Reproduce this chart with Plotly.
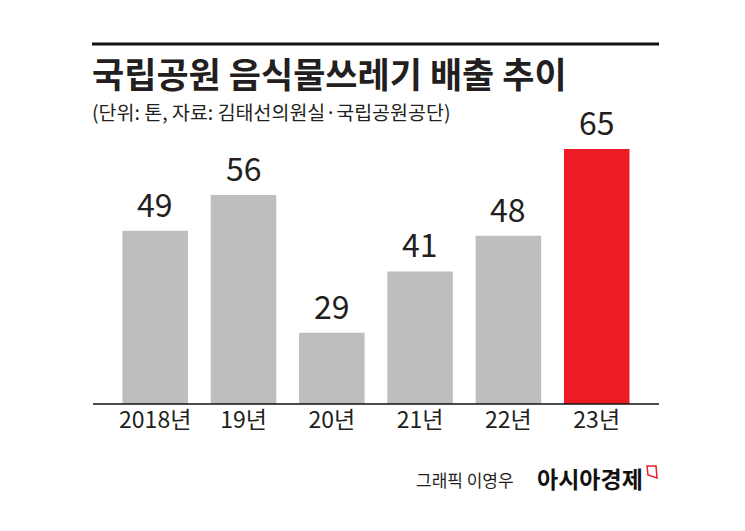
import plotly.graph_objects as go

categories = ["2018년", "19년", "20년", "21년", "22년", "23년"]
values = [49, 56, 29, 41, 48, 65]
bar_colors = ["#bcbec0", "#bcbec0", "#bcbec0", "#bcbec0", "#bcbec0", "#ed1c24"]

title_text = "국립공원 음식물쓰레기 배출 추이"
subtitle_text = "(단위: 톤, 자료: 김태선의원실·국립공원공단)"
credit_text = "그래픽 이영우"
brand_text = "아시아경제"

W, H = 745, 531
ML, MR, MT, MB = 93, 86, 100, 127
PW = W - ML - MR
PH = H - MT - MB


def px(x):
    return (x - ML) / PW


def py(y):
    return (H - MB - y) / PH


FONT = "Noto Sans CJK KR"
TXT = "#231f20"

fig = go.Figure()
fig.add_trace(go.Bar(
    x=list(range(len(categories))),
    y=values,
    marker=dict(color=bar_colors, line=dict(width=0)),
    width=0.742,
    hoverinfo="skip",
))

annotations = []
for i, v in enumerate(values):
    annotations.append(dict(
        x=i, y=v, xref="x", yref="y", text=str(v), showarrow=False,
        yanchor="bottom", yshift=3,
        font=dict(family=FONT, size=32, color=TXT),
    ))

annotations += [
    dict(x=px(90), y=py(72), xref="paper", yref="paper", text="<b>" + title_text + "</b>",
         showarrow=False, xanchor="left", yanchor="middle",
         font=dict(family=FONT, size=35, color=TXT)),
    dict(x=px(90), y=py(111), xref="paper", yref="paper", text=subtitle_text,
         showarrow=False, xanchor="left", yanchor="middle",
         font=dict(family=FONT, size=19.5, color=TXT)),
    dict(x=px(516), y=py(479), xref="paper", yref="paper", text=credit_text,
         showarrow=False, xanchor="right", yanchor="middle",
         font=dict(family=FONT, size=17, color=TXT)),
    dict(x=px(645), y=py(478), xref="paper", yref="paper", text="<b>" + brand_text + "</b>",
         showarrow=False, xanchor="right", yanchor="middle",
         font=dict(family=FONT, size=23, color="#111111")),
]

shapes = [
    dict(type="line", xref="paper", yref="paper", x0=px(92), x1=px(659), y0=py(44), y1=py(44),
         line=dict(color="#111111", width=3)),
    dict(type="line", xref="paper", yref="paper", x0=px(93), x1=px(659), y0=0, y1=0,
         line=dict(color="#111111", width=1.5)),
    dict(type="path", xref="paper", yref="paper",
         path=f"M {px(647)},{py(466)} L {px(656)},{py(466)} L {px(657)},{py(478)} L {px(648)},{py(475)} Z",
         line=dict(color="#ed1c24", width=1.5), fillcolor="rgba(0,0,0,0)"),
]

step = 88.3
x_left = -(155.2 - ML) / step
x_right = 5 + (659 - 596.7) / step
y0 = 15.03
ppu = 5.103
y_top = y0 + PH / ppu

fig.update_layout(
    width=W, height=H,
    margin=dict(l=ML, r=MR, t=MT, b=MB),
    paper_bgcolor="white", plot_bgcolor="white",
    showlegend=False,
    xaxis=dict(
        range=[x_left, x_right],
        tickmode="array",
        tickvals=list(range(len(categories))),
        ticktext=categories,
        showgrid=False, zeroline=False, showline=False, ticks="",
        tickfont=dict(family=FONT, size=23, color=TXT),
        fixedrange=True,
    ),
    yaxis=dict(
        range=[y0, y_top], visible=False, showgrid=False, zeroline=False,
        fixedrange=True,
    ),
    annotations=annotations,
    shapes=shapes,
)

fig.write_html("out.html")
